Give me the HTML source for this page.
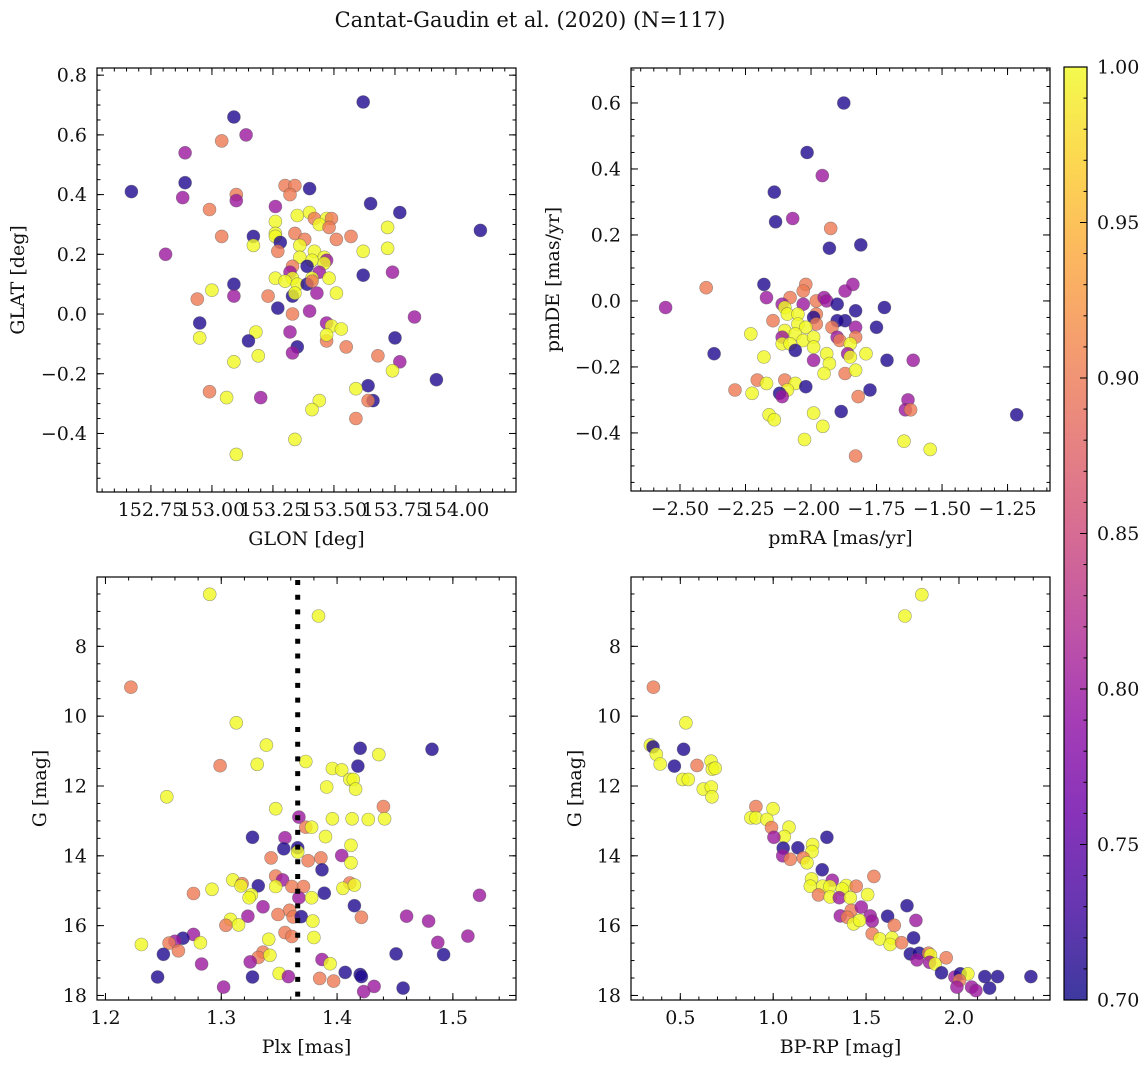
<!DOCTYPE html>
<html><head><meta charset="utf-8">
<style>
html,body{margin:0;padding:0;background:#fff;}
svg{display:block;font-family:"DejaVu Serif","Liberation Serif",serif;}
</style></head>
<body>
<svg id="fig" width="1148" height="1067" viewBox="0 0 1148 1067" xmlns="http://www.w3.org/2000/svg">
<defs>
<linearGradient id="plasmaGrad" x1="0" y1="1" x2="0" y2="0"></linearGradient>
</defs>
<text x="530" y="27" font-size="21" text-anchor="middle" fill="#111">Cantat-Gaudin et al. (2020) (N=117)</text>
</svg>
<script>
// ---------- data: panel 1 (GLON vs GLAT) ----------
const p1Lon=[153.62,153.09,153.14,153.04,152.89,152.67,152.89,152.88,153.10,153.10,152.99,153.30,153.34,153.32,153.40,153.26,153.65,153.77,154.10,153.72,153.26,153.35,153.40,153.42,153.47,153.49,153.44,153.48,153.26,153.26,153.04,153.17,153.17,153.28,153.34,153.38,153.51,153.57,153.36,153.27,152.81,153.62,153.72,153.42,153.46,153.36,153.47,153.41,153.46,153.39,153.33,153.32,153.44,153.62,153.74,153.26,153.33,153.41,153.48,153.30,153.35,153.39,153.41,153.09,153.00,153.09,152.94,153.23,153.33,153.34,153.43,153.51,153.27,153.40,153.33,153.83,152.95,153.47,153.49,153.53,152.95,153.18,153.15,153.32,153.47,153.47,153.35,153.33,153.55,153.75,153.68,153.77,153.74,153.09,153.19,153.92,153.64,153.59,152.99,153.06,153.20,153.66,153.64,153.44,153.41,153.59,153.34,153.10];
const p1Lat=[0.71,0.66,0.60,0.58,0.54,0.41,0.44,0.39,0.40,0.38,0.35,0.43,0.43,0.40,0.42,0.36,0.37,0.34,0.28,0.29,0.31,0.33,0.34,0.32,0.32,0.32,0.30,0.29,0.27,0.26,0.26,0.26,0.23,0.24,0.27,0.25,0.25,0.26,0.23,0.21,0.20,0.21,0.22,0.21,0.19,0.19,0.18,0.18,0.17,0.16,0.16,0.14,0.14,0.13,0.14,0.12,0.12,0.12,0.12,0.11,0.10,0.10,0.11,0.10,0.08,0.06,0.05,0.06,0.06,0.07,0.07,0.07,0.02,0.01,0.00,-0.01,-0.03,-0.03,-0.04,-0.05,-0.08,-0.06,-0.09,-0.06,-0.09,-0.07,-0.11,-0.13,-0.11,-0.08,-0.14,-0.16,-0.19,-0.16,-0.14,-0.22,-0.24,-0.25,-0.26,-0.28,-0.28,-0.29,-0.29,-0.29,-0.32,-0.35,-0.42,-0.47];
const p1Val=[.71,.71,.8,.9,.8,.71,.71,.8,.9,.8,.9,.9,.9,.9,.71,.8,.71,.71,.71,1,1,1,1,.9,1,.9,1,.9,1,1,.9,.71,1,.71,.9,.9,.9,.9,1,.9,.8,1,1,1,1,1,.8,1,1,.71,.9,.8,.8,.71,.8,1,1,1,1,1,1,.71,.9,.71,1,.8,.9,.9,.71,1,.8,1,.71,.8,.9,.8,.71,.8,1,1,1,1,.71,.8,.9,1,.71,.8,.9,.71,.9,.8,1,1,1,.71,.71,1,.9,1,.8,.71,.9,1,1,.9,1,1];

// ---------- data: panel 2 (pmRA vs pmDE) ----------
const p2RA=[-1.875,-2.015,-1.957,-2.14,-2.135,-2.07,-1.925,-1.93,-1.81,-2.18,-2.40,-2.555,-2.17,-1.84,-1.87,-2.02,-2.03,-2.08,-2.11,-2.03,-1.98,-1.95,-1.94,-1.90,-1.83,-1.72,-2.10,-2.09,-2.05,-2.145,-1.98,-1.99,-1.87,-1.90,-1.98,-1.92,-1.83,-1.75,-2.05,-2.02,-2.10,-2.06,-2.03,-1.99,-2.11,-1.90,-1.89,-1.83,-2.23,-2.11,-2.08,-1.99,-2.06,-1.85,-1.94,-1.86,-1.85,-1.79,-2.37,-2.18,-1.99,-1.71,-1.61,-1.93,-1.95,-1.87,-1.83,-2.205,-2.17,-2.10,-2.06,-2.02,-2.09,-2.12,-2.11,-2.29,-2.225,-1.775,-1.82,-1.63,-1.64,-1.62,-2.16,-2.14,-1.99,-1.885,-1.955,-1.215,-2.025,-1.645,-1.545,-1.83];
const p2DE=[0.60,0.45,0.38,0.33,0.24,0.25,0.22,0.16,0.17,0.05,0.04,-0.02,0.01,0.05,0.03,0.05,0.03,0.01,-0.01,-0.01,0.00,0.01,0.00,-0.01,-0.03,-0.02,-0.02,-0.04,-0.04,-0.06,-0.04,-0.05,-0.06,-0.06,-0.07,-0.08,-0.08,-0.08,-0.07,-0.08,-0.09,-0.10,-0.12,-0.11,-0.11,-0.11,-0.12,-0.11,-0.10,-0.13,-0.13,-0.14,-0.15,-0.13,-0.16,-0.16,-0.17,-0.16,-0.16,-0.17,-0.18,-0.18,-0.18,-0.19,-0.22,-0.22,-0.21,-0.24,-0.25,-0.24,-0.25,-0.26,-0.27,-0.28,-0.29,-0.27,-0.28,-0.27,-0.29,-0.30,-0.33,-0.33,-0.345,-0.36,-0.34,-0.335,-0.38,-0.345,-0.42,-0.425,-0.45,-0.47];
const p2Val=[.71,.71,.8,.71,.71,.8,.9,.71,.71,.71,.9,.8,.8,.8,.8,.9,.9,.9,.8,.8,.9,.8,.8,.71,.71,.71,1,1,1,.9,.9,.71,.71,.71,.9,.9,.8,.71,1,1,1,1,1,1,.8,.8,.9,.9,1,1,1,1,.71,1,1,.8,1,1,.71,1,.8,.71,.8,1,1,.9,1,.9,1,.9,1,.71,1,.71,.8,.9,1,.71,.9,.8,.8,.9,1,1,1,.71,1,.71,1,1,1,.9];

// ---------- data: panel 3 (Plx vs G) ----------
const p3Plx=[1.290,1.384,1.222,1.313,1.339,1.420,1.482,1.436,1.299,1.331,1.373,1.418,1.396,1.404,1.411,1.414,1.416,1.391,1.253,1.440,1.347,1.367,1.396,1.413,1.427,1.441,1.373,1.378,1.327,1.355,1.390,1.354,1.366,1.366,1.412,1.343,1.375,1.386,1.404,1.412,1.387,1.347,1.353,1.310,1.318,1.317,1.332,1.347,1.361,1.371,1.411,1.405,1.415,1.292,1.276,1.389,1.326,1.324,1.367,1.378,1.523,1.336,1.415,1.359,1.349,1.362,1.369,1.323,1.421,1.460,1.479,1.308,1.379,1.304,1.315,1.355,1.361,1.380,1.341,1.276,1.267,1.260,1.255,1.282,1.231,1.263,1.250,1.513,1.487,1.451,1.492,1.336,1.332,1.342,1.325,1.283,1.387,1.394,1.245,1.327,1.350,1.358,1.407,1.420,1.421,1.385,1.397,1.302,1.432,1.423,1.457];
const p3G=[6.51,7.13,9.17,10.19,10.83,10.92,10.95,11.10,11.42,11.38,11.30,11.43,11.50,11.54,11.81,11.81,12.09,12.03,12.31,12.59,12.65,12.89,12.94,12.94,12.96,12.94,13.18,13.18,13.47,13.48,13.45,13.80,13.77,13.89,13.70,14.06,14.14,14.06,13.99,14.20,14.40,14.58,14.69,14.69,14.80,14.86,14.86,14.88,14.88,14.88,14.78,14.93,14.84,14.96,15.08,15.07,15.12,15.20,15.20,15.20,15.13,15.46,15.43,15.56,15.68,15.75,15.74,15.73,15.76,15.73,15.87,15.82,15.87,15.99,15.98,16.20,16.31,16.34,16.39,16.25,16.36,16.45,16.50,16.49,16.54,16.72,16.82,16.30,16.48,16.81,16.83,16.76,16.91,16.85,17.04,17.10,16.97,17.09,17.47,17.47,17.37,17.46,17.34,17.40,17.46,17.51,17.59,17.76,17.74,17.89,17.79];
const p3Val=[1,1,.9,1,1,.71,.71,1,.9,1,1,.71,1,1,1,1,1,1,1,.9,1,.8,1,1,1,1,.9,1,.71,.8,1,.71,.71,1,1,.9,.9,.9,.8,1,.71,.9,.8,1,.9,1,.71,1,.9,.9,.9,1,1,1,.9,.71,1,1,.8,1,.8,.8,.71,.9,.9,.9,.71,.8,.9,.8,.8,1,1,.9,1,.9,.9,1,1,.8,.71,.8,.9,1,1,.9,.71,.8,.8,.71,.71,.9,.9,1,.8,.8,.8,1,.71,.71,1,.8,.71,.71,.71,.9,.9,.8,.8,.8,.71];
const p3Line=[1.366];

// ---------- data: panel 4 (BP-RP vs G) ----------
const p4BPRP=[1.800,1.709,0.355,0.530,0.339,0.353,0.518,0.371,0.392,0.468,0.590,0.665,0.672,0.688,0.513,0.543,0.624,0.667,0.670,0.907,0.999,0.880,0.907,0.966,0.991,1.085,1.060,1.004,1.289,1.054,1.133,1.212,1.209,1.051,1.092,1.162,1.182,1.264,1.207,1.318,1.542,1.200,1.266,1.305,1.393,1.447,1.372,1.244,1.307,1.356,1.415,1.508,1.720,1.361,1.420,1.474,1.522,1.616,1.768,1.399,1.433,1.465,1.533,1.652,1.533,1.574,1.639,1.630,1.691,1.756,1.738,1.786,1.774,1.836,1.847,1.842,1.872,1.931,1.906,1.978,2.007,2.048,2.003,1.989,2.068,2.091,2.139,2.208,2.165,2.387];
const p4G=[6.52,7.13,9.17,10.19,10.83,10.88,10.95,11.09,11.37,11.43,11.41,11.29,11.52,11.49,11.81,11.81,12.09,12.03,12.31,12.59,12.65,12.91,12.91,12.96,13.19,13.18,13.45,13.47,13.47,13.78,13.77,13.68,13.88,14.00,14.10,14.06,14.20,14.40,14.66,14.70,14.59,14.87,14.87,14.88,14.85,14.87,14.95,15.12,15.18,15.20,15.20,15.11,15.43,15.72,15.56,15.47,15.72,15.73,15.85,15.76,15.95,15.85,15.87,15.99,16.23,16.38,16.35,16.54,16.49,16.35,16.81,16.79,16.98,16.79,16.84,17.05,17.10,16.92,17.35,17.47,17.38,17.38,17.57,17.76,17.76,17.86,17.46,17.46,17.79,17.46];
const p4Val=[1,1,.9,1,1,.71,.71,1,1,.71,.9,1,1,1,1,1,1,1,1,.9,1,1,1,1,.9,1,1,.8,.71,.71,.71,1,1,.8,.9,.9,1,.71,1,.8,.9,1,1,1,1,.9,1,.9,1,.8,1,1,.71,.8,.9,.8,.8,.71,.8,.9,1,1,.8,.9,.9,1,1,1,.9,.71,.71,.71,.8,.9,1,.8,1,.9,.71,.8,.71,1,.9,.8,.8,.8,.71,.71,.71,.71];

// ---------- tick labels ----------
const p1XTicks=[152.75,153.00,153.25,153.50,153.75,154.00];
const p1XLabels=["152.75","153.00","153.25","153.50","153.75","154.00"];
const p1YTicks=[-0.4,-0.2,0,0.2,0.4,0.6,0.8];
const p1YLabels=["\u22120.4","\u22120.2","0.0","0.2","0.4","0.6","0.8"];
const p2XTicks=[-2.5,-2.25,-2.0,-1.75,-1.5,-1.25];
const p2XLabels=["\u22122.50","\u22122.25","\u22122.00","\u22121.75","\u22121.50","\u22121.25"];
const p2YTicks=[-0.4,-0.2,0,0.2,0.4,0.6];
const p2YLabels=["\u22120.4","\u22120.2","0.0","0.2","0.4","0.6"];
const p3XTicks=[1.2,1.3,1.4,1.5];
const p3XLabels=["1.2","1.3","1.4","1.5"];
const gTicks=[8,10,12,14,16,18];
const gLabels=["8","10","12","14","16","18"];
const p4XTicks=[0.5,1.0,1.5,2.0];
const p4XLabels=["0.5","1.0","1.5","2.0"];
const cbTicks=[0.70,0.75,0.80,0.85,0.90,0.95,1.00];
const cbLabels=["0.70","0.75","0.80","0.85","0.90","0.95","1.00"];

const NS="http://www.w3.org/2000/svg";
const svg=document.getElementById('fig');
const FS=19;
const plasmaStops=[[13,8,135],[65,4,157],[106,0,168],[143,13,164],[177,42,144],[204,71,120],[225,100,98],[242,132,75],[252,166,54],[252,206,37],[240,249,33]];
function plasma(t){t=Math.max(0,Math.min(1,t));const f=t*10,i=Math.min(9,Math.floor(f)),r=f-i;const a=plasmaStops[i],b=plasmaStops[i+1];return 'rgb('+a.map((v,k)=>Math.round(v+(b[k]-v)*r)).join(',')+')';}
const vmin=0.7,vmax=1.0;
function mk(tag,attrs,parent){const e=document.createElementNS(NS,tag);for(const k in attrs)e.setAttribute(k,attrs[k]);(parent||svg).appendChild(e);return e;}

function panel(c){
  const g=mk('g',{});
  
  
  const sx=v=>c.x0+(v-c.xd[0])/(c.xd[1]-c.xd[0])*(c.x1-c.x0);
  const sy=v=>c.y0+(v-c.yd[0])/(c.yd[1]-c.yd[0])*(c.y1-c.y0);
  const clip='clip-'+c.name;
  const cp=mk('clipPath',{id:clip},g);mk('rect',{x:c.x0,y:c.y0,width:c.x1-c.x0,height:c.y1-c.y0},cp);
  const pts=mk('g',{'clip-path':'url(#'+clip+')'},g);
  
  
  for(let i=0;i<c.xs.length;i++){
    const p=mk('circle',{cx:sx(c.xs[i]).toFixed(1),cy:sy(c.ys[i]).toFixed(1),r:6.5,fill:plasma((c.vs[i]-vmin)/(vmax-vmin)),'fill-opacity':0.8,stroke:'#555','stroke-opacity':0.55,'stroke-width':0.6},pts);
    
    
  }
  if(c.vline){for(const v of c.vline){const l=mk('line',{x1:sx(v),x2:sx(v),y1:c.y0+3,y2:c.y1,stroke:'#000','stroke-width':5,'stroke-dasharray':'5 9.7'},g);
    
    }}
  const ax=mk('g',{stroke:'#000','stroke-width':1},g);
  
  
  const lo=Math.min(c.xd[0],c.xd[1]),hi=Math.max(c.xd[0],c.xd[1]);
  for(let v=Math.ceil(lo/c.xmin-1e-9)*c.xmin;v<=hi;v+=c.xmin){const X=sx(v);mk('line',{x1:X,x2:X,y1:c.y1,y2:c.y1-3.5},ax);mk('line',{x1:X,x2:X,y1:c.y0,y2:c.y0+3.5},ax);}
  const ylo=Math.min(c.yd[0],c.yd[1]),yhi=Math.max(c.yd[0],c.yd[1]);
  for(let v=Math.ceil(ylo/c.ymin-1e-9)*c.ymin;v<=yhi;v+=c.ymin){const Y=sy(v);mk('line',{y1:Y,y2:Y,x1:c.x0,x2:c.x0+3.5},ax);mk('line',{y1:Y,y2:Y,x1:c.x1,x2:c.x1-3.5},ax);}
  c.xt.forEach((v,i)=>{const X=sx(v);mk('line',{x1:X,x2:X,y1:c.y1,y2:c.y1-7},ax);mk('line',{x1:X,x2:X,y1:c.y0,y2:c.y0+7},ax);
    const t=mk('text',{x:X,y:c.y1+24,'font-size':FS,'text-anchor':'middle',fill:'#111'},g);t.textContent=c.xl[i];
    
    });
  c.yt.forEach((v,i)=>{const Y=sy(v);mk('line',{y1:Y,y2:Y,x1:c.x0,x2:c.x0+7},ax);mk('line',{y1:Y,y2:Y,x1:c.x1,x2:c.x1-7},ax);
    const t=mk('text',{x:c.x0-10,y:Y+6.5,'font-size':FS,'text-anchor':'end',fill:'#111'},g);t.textContent=c.yl[i];
    
    });
  const fr=mk('rect',{x:c.x0,y:c.y0,width:c.x1-c.x0,height:c.y1-c.y0,fill:'none',stroke:'#000','stroke-width':1.2},g);
  
  
  const xl=mk('text',{x:(c.x0+c.x1)/2,y:c.y1+53,'font-size':FS,'text-anchor':'middle',fill:'#111'},g);xl.textContent=c.xlabel;
  
  
  const ym=(c.y0+c.y1)/2;
  const yl=mk('text',{x:c.ylx,y:ym,'font-size':FS,'text-anchor':'middle',fill:'#111',transform:'rotate(-90 '+c.ylx+' '+ym+')'},g);yl.textContent=c.ylabel;
  
  
}

panel({name:'panel-glon-glat',x0:97,x1:516,y0:68,y1:492,xd:[152.529,154.246],yd:[0.824,-0.596],xs:p1Lon,ys:p1Lat,vs:p1Val,xt:p1XTicks,xl:p1XLabels,yt:p1YTicks,yl:p1YLabels,xmin:0.05,ymin:0.05,xlabel:'GLON [deg]',ylabel:'GLAT [deg]',ylx:24});
panel({name:'panel-pm',x0:631,x1:1050,y0:68,y1:491,xd:[-2.687,-1.088],yd:[0.706,-0.576],xs:p2RA,ys:p2DE,vs:p2Val,xt:p2XTicks,xl:p2XLabels,yt:p2YTicks,yl:p2YLabels,xmin:0.05,ymin:0.05,xlabel:'pmRA [mas/yr]',ylabel:'pmDE [mas/yr]',ylx:559});
panel({name:'panel-plx-g',x0:97,x1:516,y0:577,y1:1000,xd:[1.1927,1.5545],yd:[6.014,18.13],xs:p3Plx,ys:p3G,vs:p3Val,xt:p3XTicks,xl:p3XLabels,yt:gTicks,yl:gLabels,xmin:0.02,ymin:0.5,xlabel:'Plx [mas]',ylabel:'G [mag]',ylx:46,vline:p3Line});
panel({name:'panel-cmd',x0:631,x1:1050,y0:577,y1:1000,xd:[0.2346,2.49],yd:[6.014,18.13],xs:p4BPRP,ys:p4G,vs:p4Val,xt:p4XTicks,xl:p4XLabels,yt:gTicks,yl:gLabels,xmin:0.1,ymin:0.5,xlabel:'BP-RP [mag]',ylabel:'G [mag]',ylx:581});

// colorbar
const grad=document.getElementById('plasmaGrad');
for(let i=0;i<=10;i++){mk('stop',{offset:(i/10),'stop-color':plasma(i/10),'stop-opacity':0.8},grad);}
const cb=mk('g',{});


const cx0=1064,cx1=1087,cy0=67,cy1=1000;
mk('rect',{x:cx0,y:cy0,width:cx1-cx0,height:cy1-cy0,fill:'url(#plasmaGrad)'},cb);
const cbY=v=>cy1-(v-vmin)/(vmax-vmin)*(cy1-cy0);
for(let k=1;k<30;k++){const Y=cbY(vmin+k*0.01);mk('line',{x1:cx1,x2:cx1-3.5,y1:Y,y2:Y,stroke:'#000','stroke-width':1},cb);}
cbTicks.forEach((v,i)=>{const Y=cbY(v);mk('line',{x1:cx1,x2:cx1-7,y1:Y,y2:Y,stroke:'#000','stroke-width':1},cb);
  const t=mk('text',{x:cx1+10,y:Y+6.5,'font-size':FS,fill:'#111'},cb);t.textContent=cbLabels[i];
  
  });
mk('rect',{x:cx0,y:cy0,width:cx1-cx0,height:cy1-cy0,fill:'none',stroke:'#000','stroke-width':1.2},cb);
</script>
</body></html>
